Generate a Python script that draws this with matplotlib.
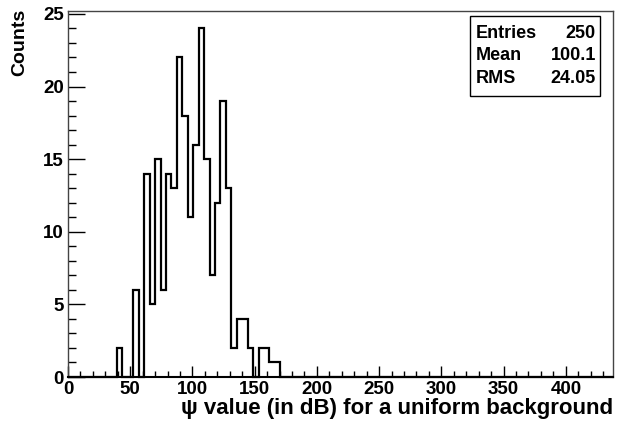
import numpy as np
import matplotlib
matplotlib.use("Agg")
import matplotlib.pyplot as plt
from matplotlib.patches import Rectangle

plt.rcParams['font.family'] = ['Liberation Sans', 'DejaVu Sans']
plt.rcParams['font.weight'] = 'bold'

# ---- data ----
n_bins = 100
x_min, x_max = 0.0, 437.5
first_bin = 9
bin_counts = [2, 0, 0, 6, 0, 14, 5, 15, 6, 14, 13, 22, 18, 11, 16, 24, 15, 7,
              12, 19, 13, 2, 4, 4, 2, 0, 2, 2, 1, 1]
x_ticks = [0, 50, 100, 150, 200, 250, 300, 350, 400]
y_ticks = [0, 5, 10, 15, 20, 25]
stats_names = ["Entries", "Mean", "RMS"]
stats_values = ["250", "100.1", "24.05"]
x_label = "\u03c8 value (in dB) for a uniform background"
y_label = "Counts"

counts = np.zeros(n_bins)
counts[first_bin:first_bin + len(bin_counts)] = bin_counts
edges = np.linspace(x_min, x_max, n_bins + 1)

W, H = 625, 422
fig = plt.figure(figsize=(W / 100, H / 100), dpi=100)

def fx(px):
    return px / W

def fy(py):
    return 1 - py / H

L, R, T, B = 68, 612.5, 11, 377
ax = fig.add_axes([fx(L), fy(B), fx(R) - fx(L), fy(T) - fy(B)])

ax.stairs(counts, edges, baseline=0, color='black', lw=1.6, clip_on=False, zorder=3)

ax.set_xlim(x_min, x_max)
ax.set_ylim(0, 25.2)
ax.set_xticks(x_ticks)
ax.set_yticks(y_ticks)
ax.set_xticks(np.arange(0, 440, 10), minor=True)
ax.set_yticks(np.arange(0, 26, 1), minor=True)
ax.tick_params(axis='x', which='major', direction='in', length=8, width=1, labelsize=13.5, pad=3)
ax.tick_params(axis='x', which='minor', direction='in', length=4, width=1)
ax.tick_params(axis='y', which='major', direction='in', length=12, width=1, labelsize=13.5, pad=3)
ax.tick_params(axis='y', which='minor', direction='in', length=6, width=1)
for lab in ax.get_xticklabels() + ax.get_yticklabels():
    lab.set_fontweight('bold')

for s in ['top', 'right', 'left']:
    ax.spines[s].set_linewidth(1.0)
    ax.spines[s].set_color('#444444')
ax.spines['bottom'].set_linewidth(1.5)
ax.spines['bottom'].set_color('black')

fig.text(fx(R + 1), fy(414), x_label, ha='right', va='baseline', fontsize=16, fontweight='bold')
fig.text(fx(20), fy(9), y_label, ha='center', va='top', rotation=90, fontsize=14, fontweight='bold')

# stats box
bx0, bx1, by0, by1 = 469.5, 599.5, 16, 96
fig.patches.append(Rectangle((fx(bx0), fy(by1)), fx(bx1) - fx(bx0), fy(by0) - fy(by1),
                             transform=fig.transFigure, fill=True, facecolor='white',
                             edgecolor='black', lw=1.0, zorder=5))
rows_y = [33, 56, 78.5]
for name, val, ry in zip(stats_names, stats_values, rows_y):
    fig.text(fx(476), fy(ry), name, ha='left', va='center', fontsize=13, fontweight='bold', zorder=6)
    fig.text(fx(596), fy(ry), val, ha='right', va='center', fontsize=13, fontweight='bold', zorder=6)

fig.savefig("out.png", dpi=100)
